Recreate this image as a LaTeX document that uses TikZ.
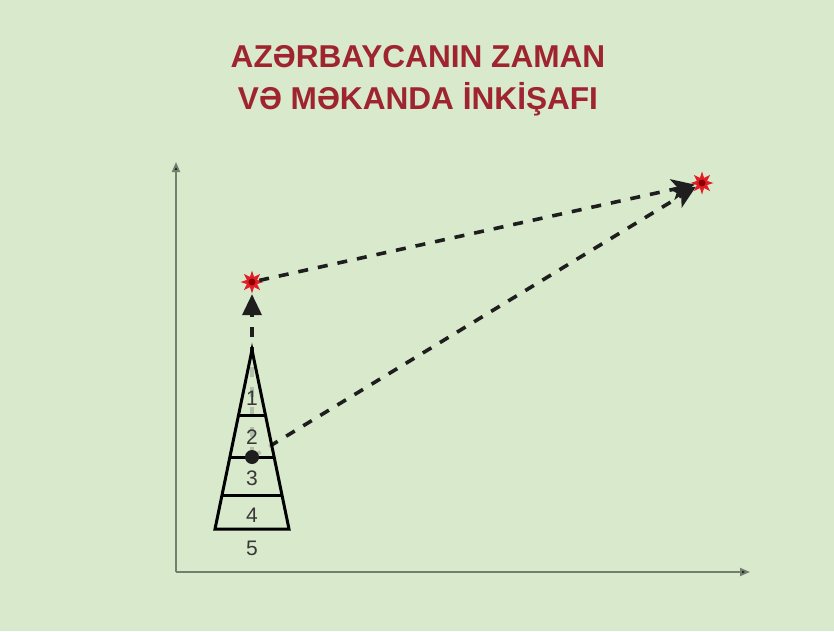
\documentclass[tikz,border=0pt]{standalone}
\usepackage{fontspec}
\setmainfont{Liberation Sans}
\usetikzlibrary{arrows.meta,shapes.geometric}
\definecolor{bg}{RGB}{217,233,204}
\definecolor{titlered}{RGB}{158,36,48}
\definecolor{axisgray}{RGB}{115,125,112}
\definecolor{inkdark}{RGB}{30,30,30}
\definecolor{starred}{RGB}{225,30,40}
\definecolor{numgray}{RGB}{55,55,55}
\tikzset{
  axisline/.style={draw=axisgray, line width=1.8pt, -{Triangle[length=10pt,width=8pt,fill=inkdark]}},
  dashline/.style={draw=inkdark, line width=3.6pt, dash pattern=on 10pt off 10pt},
  dasharrow/.style={dashline, -{Triangle[length=21pt,width=19pt,fill=inkdark]}},
  dartarrow/.style={dashline, -{Stealth[length=23pt,width=21pt,inset=6pt,fill=inkdark]}},
  towerline/.style={draw=black, line width=3pt},
  starnode/.style={star, star points=8, star point ratio=2.1, minimum size=23pt, inner sep=0pt, fill=starred, draw=none},
  numlabel/.style={font=\fontsize{21}{21}\selectfont, text=numgray, inner sep=0pt},
  titletext/.style={font=\bfseries\fontsize{31.6}{42}\selectfont, text=titlered, align=center}
}
\begin{document}
\begin{tikzpicture}[x=1pt,y=-1pt]
\fill[bg] (0,0) rectangle (834,631);
\useasboundingbox (0,0) rectangle (834,631);
% title
\node[titletext] (title) at (418,81) {AZƏRBAYCANIN ZAMAN\\VƏ MƏKANDA İNKİŞAFI};
% axes
\coordinate (origin) at (176,572);
\coordinate (ytop) at (176,162);
\coordinate (xend) at (750,572);
\draw[axisline] (origin) -- (ytop);
\draw[axisline] (origin) -- (xend);
% stars
\node[starnode] (s1) at (252,282) {};
\node[starnode] (s2) at (702,183) {};
\fill[red!55!black] (s1.center) circle (3.5pt);
\fill[red!55!black] (s2.center) circle (3.5pt);
% dot position
\coordinate (dotc) at (252,457);
% dashed arrows
\draw[dasharrow] (dotc) -- (s1);
\draw[dartarrow] (s1) -- (s2);
\draw[dartarrow] (dotc) -- (s2);
% tower
\coordinate (apex) at (252,350);
\coordinate (bl) at (215,529);
\coordinate (br) at (289,529);
\fill[bg, opacity=0.8] (bl) -- (apex) -- (br) -- cycle;
\draw[towerline, line join=miter] (bl) -- (apex) -- (br) -- cycle;
\coordinate (l1a) at (239,415); \coordinate (l1b) at (265,415);
\coordinate (l2a) at (231,457); \coordinate (l2b) at (273,457);
\coordinate (l3a) at (223,495); \coordinate (l3b) at (281,495);
\draw[towerline] (l1a) -- (l1b);
\draw[towerline] (l2a) -- (l2b);
\draw[towerline] (l3a) -- (l3b);
% dot
\node[circle, fill=inkdark, minimum size=14pt, inner sep=0pt] (dot) at (dotc) {};
% labels
\node[numlabel] (n1) at (252,398) {1};
\node[numlabel] (n2) at (252,437) {2};
\node[numlabel] (n3) at (252,478) {3};
\node[numlabel] (n4) at (252,515) {4};
\node[numlabel] (n5) at (252,548) {5};
\end{tikzpicture}
\end{document}
